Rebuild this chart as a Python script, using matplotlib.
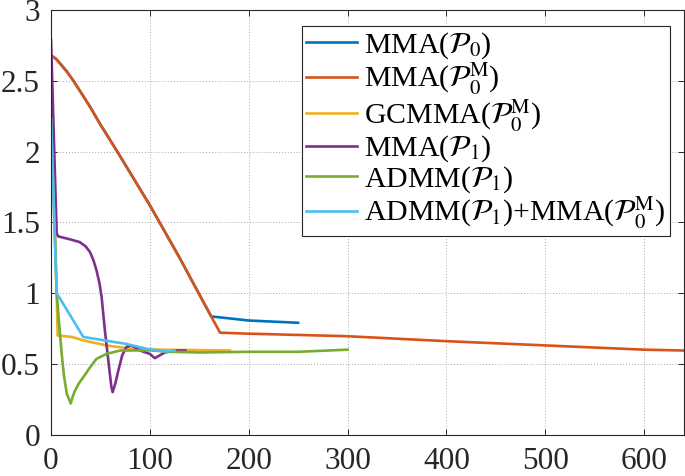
import matplotlib
matplotlib.use("Agg")
import matplotlib.pyplot as plt

plt.rcParams["font.family"] = ["Liberation Serif", "DejaVu Serif"]
plt.rcParams["mathtext.fontset"] = "stix"

# MMA(P0) - follows MMA(P0M) until it splits off at ~162
mma_p0_x = [0, 5, 10, 16, 22.6, 30, 40, 50, 67, 100, 130, 162, 200, 250]
mma_p0_y = [2.68, 2.655, 2.615, 2.565, 2.50, 2.42, 2.31, 2.19, 2.00, 1.62, 1.25, 0.835, 0.806, 0.79]

# MMA(P0M)
mma_p0m_x = [0, 5, 10, 16, 22.6, 30, 40, 50, 67, 100, 130, 164, 171, 200, 300, 400, 500, 600, 640]
mma_p0m_y = [2.68, 2.655, 2.615, 2.565, 2.50, 2.42, 2.31, 2.19, 2.00, 1.62, 1.25, 0.81, 0.72,
             0.713, 0.695, 0.66, 0.63, 0.60, 0.594]

# GCMMA(P0M)
gcmma_x = [0, 6.7, 21, 33, 56, 83, 110, 181]
gcmma_y = [2.68, 0.70, 0.69, 0.665, 0.63, 0.605, 0.60, 0.594]

# MMA(P1)
mma_p1_x = [0, 5.7, 7.4, 19, 29, 35, 39.4, 43, 46, 49, 51.2, 54.5, 58, 61, 62.3, 65, 68, 72,
            76.4, 81.5, 90, 100, 105, 110, 115, 127, 136]
mma_p1_y = [2.79, 1.42, 1.40, 1.38, 1.36, 1.33, 1.29, 1.23, 1.16, 1.07, 0.97, 0.735, 0.52, 0.34,
            0.30, 0.36, 0.45, 0.56, 0.62, 0.63, 0.594, 0.57, 0.54, 0.56, 0.58, 0.594, 0.594]

# ADMM(P1)
admm_x = [0, 5.7, 8, 10.8, 13, 15.9, 19.9, 22, 24.2, 28, 32.6, 40, 46, 56, 70, 100, 120, 150,
          200, 250, 300]
admm_y = [2.23, 1.00, 0.80, 0.57, 0.42, 0.29, 0.22, 0.27, 0.31, 0.36, 0.405, 0.48, 0.535, 0.57,
          0.594, 0.595, 0.585, 0.58, 0.585, 0.585, 0.60]

# ADMM(P1)+MMA(P0M)
hybrid_x = [0, 5.7, 32.6, 76.5, 96.7, 117, 125]
hybrid_y = [2.23, 1.00, 0.69, 0.64, 0.606, 0.587, 0.594]

series = [
    (mma_p0_x, mma_p0_y, "#0072BD", r"MMA($\mathcal{P}_0$)"),
    (mma_p0m_x, mma_p0m_y, "#D95319", r"MMA($\mathcal{P}_0^{\mathrm{M}}$)"),
    (gcmma_x, gcmma_y, "#EDB120", r"GCMMA($\mathcal{P}_0^{\mathrm{M}}$)"),
    (mma_p1_x, mma_p1_y, "#7E2F8E", r"MMA($\mathcal{P}_1$)"),
    (admm_x, admm_y, "#77AC30", r"ADMM($\mathcal{P}_1$)"),
    (hybrid_x, hybrid_y, "#4DBEEE", r"ADMM($\mathcal{P}_1$)+MMA($\mathcal{P}_0^{\mathrm{M}}$)"),
]

fig = plt.figure(figsize=(6.85, 4.76), dpi=100)
ax = fig.add_axes([0.0745, 0.087, 0.9235, 0.892])

for xs, ys, color, label in series:
    ax.plot(xs, ys, color=color, linewidth=1.9, label=label)

ax.set_xlim(0, 640)
ax.set_ylim(0, 3)
ax.set_xticks(range(0, 601, 100))
ax.set_yticks([0, 0.5, 1, 1.5, 2, 2.5, 3])
ax.set_yticklabels(["0", "0.5", "1", "1.5", "2", "2.5", "3"])
ax.grid(True, linestyle=(0, (1, 2)), color="#a8a8a8", linewidth=0.7)
ax.tick_params(direction="in", length=4, width=0.7, labelsize=22.5, colors="#262626",
               top=True, right=True)
ax.tick_params(axis="x", pad=9)
ax.tick_params(axis="y", pad=8)
for sp in ax.spines.values():
    sp.set_color("#262626")
    sp.set_linewidth(0.8)

leg = ax.legend(loc="upper right", bbox_to_anchor=(0.978, 0.962), borderaxespad=0,
                fontsize=21.5, fancybox=False, framealpha=1, edgecolor="#262626",
                handlelength=1.7, handletextpad=0.25, labelspacing=0.0,
                borderpad=0.15)
leg.get_frame().set_linewidth(0.8)

fig.savefig("out.png", dpi=100)
